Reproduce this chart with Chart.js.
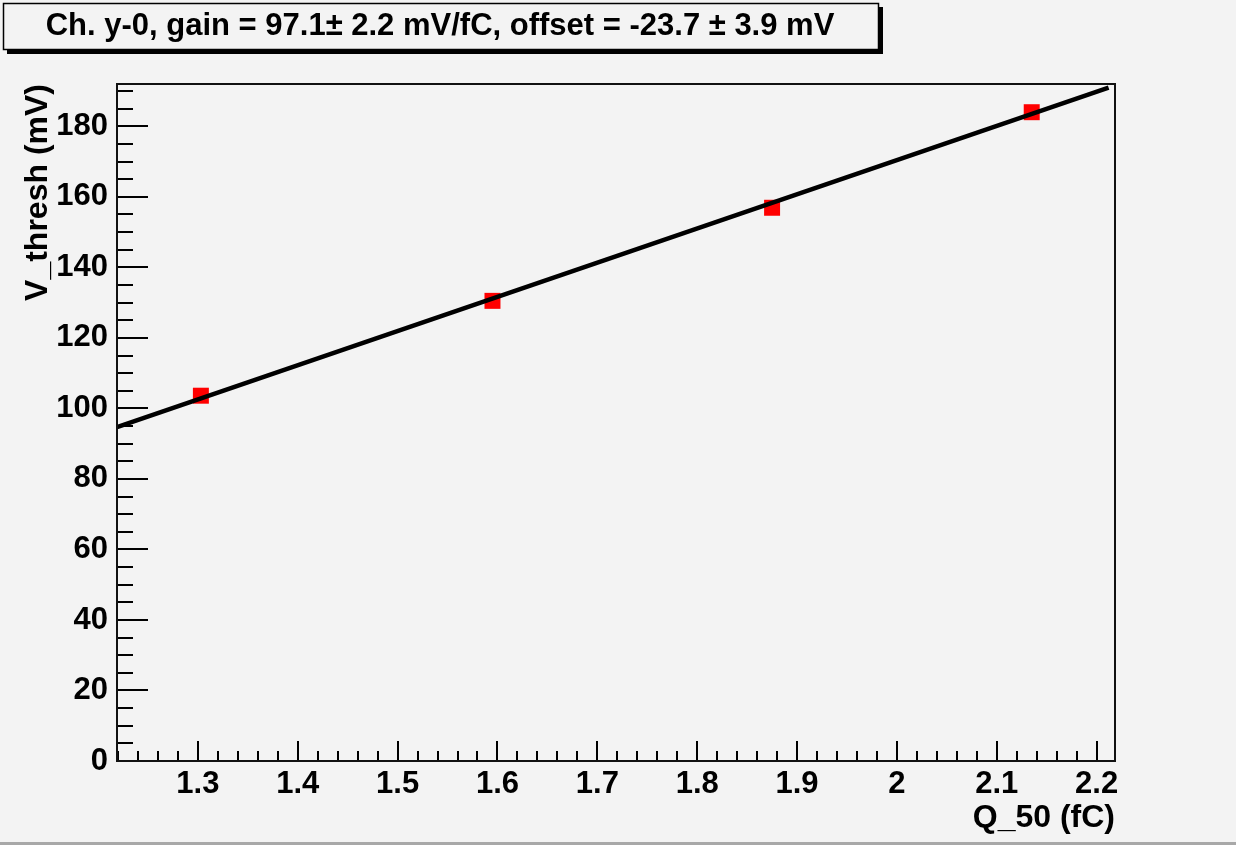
<!DOCTYPE html>
<html>
<head>
<meta charset="utf-8">
<script src="https://cdn.jsdelivr.net/npm/chart.js@4.4.0/dist/chart.umd.min.js"></script>
<style>
  html, body { margin: 0; padding: 0; background: #f3f3f3; }
  canvas { display: block; }
</style>
</head>
<body>
<canvas id="chart" width="1236" height="845"></canvas>
<script>
// measured points (Q_50 in fC, threshold in mV)
const qValues = [1.303, 1.595, 1.875, 2.135];
const vValues = [103.6, 130.5, 156.9, 184.0];

// fitted line, read at both ends
const fitQ = [1.219, 2.212];
const fitV = [94.7, 191.0];

const xTicks = [1.3, 1.4, 1.5, 1.6, 1.7, 1.8, 1.9, 2.0, 2.1, 2.2];
const yTicks = [0, 20, 40, 60, 80, 100, 120, 140, 160, 180];

const titleText = 'Ch. y-0, gain = 97.1\u00b1 2.2 mV/fC, offset = -23.7 \u00b1 3.9 mV';
const xTitle = 'Q_50 (fC)';
const yTitle = 'V_thresh (mV)';

const FONT = '"Liberation Sans", Arial, Helvetica, sans-serif';

// ROOT-like frame with inside ticks
const rootFrame = {
  id: 'rootFrame',
  afterDatasetsDraw(chart) {
    const { ctx, chartArea: a, scales: { x, y } } = chart;
    ctx.save();
    ctx.strokeStyle = '#000';
    ctx.lineWidth = 2;
    // y ticks: major every 20, minor every 5
    for (let v = 0; v <= 192; v += 5) {
      const py = Math.round(y.getPixelForValue(v));
      const len = v % 20 === 0 ? 31 : 16;
      ctx.beginPath();
      ctx.moveTo(a.left, py);
      ctx.lineTo(a.left + len, py);
      ctx.stroke();
    }
    // x ticks: major every 0.1, minor every 0.02
    for (let i = 61; i <= 110; i++) {
      const v = i / 50;
      const px = Math.round(x.getPixelForValue(v));
      const len = i % 5 === 0 ? 20 : 10;
      ctx.beginPath();
      ctx.moveTo(px, a.bottom);
      ctx.lineTo(px, a.bottom - len);
      ctx.stroke();
    }
    ctx.strokeStyle = '#111';
    ctx.strokeRect(a.left, a.top, a.right - a.left, a.bottom - a.top);
    ctx.restore();
  }
};

// title box with drop shadow, plus the window edge line
const titleBox = {
  id: 'titleBox',
  afterDraw(chart) {
    const ctx = chart.ctx;
    ctx.save();
    ctx.fillStyle = '#000';
    ctx.fillRect(7, 7, 876, 47);
    ctx.fillStyle = '#f3f3f3';
    ctx.fillRect(3, 3, 876, 47);
    ctx.strokeStyle = '#000';
    ctx.lineWidth = 1.5;
    ctx.strokeRect(3.5, 3.5, 875, 46);
    ctx.fillStyle = '#000';
    ctx.font = 'bold 31px ' + FONT;
    ctx.textAlign = 'center';
    ctx.textBaseline = 'middle';
    ctx.fillText(titleText, 440, 26);
    ctx.fillStyle = '#a8a8a8';
    ctx.fillRect(0, 842, 1236, 3);
    ctx.restore();
  }
};

const ctx = document.getElementById('chart').getContext('2d');
new Chart(ctx, {
  type: 'scatter',
  data: {
    datasets: [
      {
        type: 'line',
        data: fitQ.map((q, i) => ({ x: q, y: fitV[i] })),
        borderColor: '#000',
        borderWidth: 4.5,
        pointRadius: 0,
        fill: false,
        tension: 0
      },
      {
        data: qValues.map((q, i) => ({ x: q, y: vValues[i] })),
        pointStyle: 'rect',
        pointRadius: 11.3,
        backgroundColor: '#ff0000',
        borderWidth: 0
      }
    ]
  },
  options: {
    responsive: false,
    animation: false,
    devicePixelRatio: 1,
    layout: { padding: { top: 84, right: 121, left: 0, bottom: 0 } },
    plugins: { legend: { display: false }, tooltip: { enabled: false } },
    scales: {
      x: {
        type: 'linear',
        min: 1.219,
        max: 2.2184,
        afterBuildTicks: s => { s.ticks = xTicks.map(v => ({ value: v })); },
        afterFit: s => { s.height = 84; },
        grid: { display: false, drawTicks: false },
        border: { display: false },
        ticks: {
          color: '#000',
          padding: 5,
          maxRotation: 0,
          autoSkip: false,
          font: { family: FONT, size: 31, weight: 'bold' },
          callback: v => String(Math.round(v * 10) / 10)
        },
        title: {
          display: true,
          text: xTitle,
          align: 'end',
          color: '#000',
          font: { family: FONT, size: 32, weight: 'bold' },
          padding: { top: 0, bottom: 8 }
        }
      },
      y: {
        type: 'linear',
        min: 0,
        max: 192,
        afterBuildTicks: s => { s.ticks = yTicks.map(v => ({ value: v })); },
        afterFit: s => { s.width = 117; },
        grid: { display: false, drawTicks: false },
        border: { display: false },
        ticks: {
          color: '#000',
          padding: 9,
          autoSkip: false,
          font: { family: FONT, size: 31, weight: 'bold' }
        },
        title: {
          display: true,
          text: yTitle,
          align: 'end',
          color: '#000',
          font: { family: FONT, size: 32, weight: 'bold' },
          padding: { top: 19, bottom: 0 }
        }
      }
    }
  },
  plugins: [rootFrame, titleBox]
});
</script>
</body>
</html>
